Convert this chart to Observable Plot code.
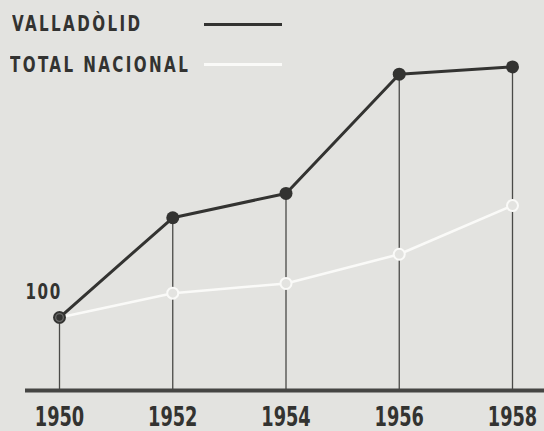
<!DOCTYPE html>
<html><head><meta charset="utf-8">
<script src="https://cdn.jsdelivr.net/npm/d3@7"></script>
<script src="https://cdn.jsdelivr.net/npm/@observablehq/plot@0.6"></script>
<style>
html,body{margin:0;padding:0;background:#e3e3e0;}
#wrap{position:relative;width:544px;height:431px;overflow:hidden;}
#wrap svg{position:absolute;left:0;top:0;}
.leg{position:absolute;font-family:"DejaVu Sans Condensed","DejaVu Sans",sans-serif;font-weight:bold;font-size:21px;line-height:21px;color:#333331;letter-spacing:3px;white-space:nowrap;transform:scaleX(0.8);transform-origin:0 0;}
.sw{position:absolute;}
</style></head><body><div id="wrap"></div>
<script>
const years = [1950, 1952, 1954, 1956, 1958];
const valladolid = [100, 141, 151, 200, 203];
const totalNacional = [100, 110, 114, 126, 146];
const seriesNames = ["VALLADÒLID", "TOTAL NACIONAL"];
const baseLabel = "100";

const bg = "#e3e3e0";
const dark = "#333331";
const light = "#fafaf8";
const font = '"DejaVu Sans Condensed","DejaVu Sans",sans-serif';

const vData = years.map((y, i) => ({year: y, value: valladolid[i]}));
const tData = years.map((y, i) => ({year: y, value: totalNacional[i]}));

const chart = Plot.plot({
  width: 544, height: 431,
  marginLeft: 25, marginRight: 0, marginTop: 0, marginBottom: 41,
  style: {background: "transparent", fontFamily: font, color: dark},
  x: {domain: [1950, 1958], range: [59, 512], axis: null},
  y: {domain: [70, 200], range: [390, 73.7], axis: null},
  marks: [
    Plot.ruleX(vData, {x: "year", y1: 70, y2: "value", stroke: "#4a4a48", strokeWidth: 1.3}),
    Plot.ruleY([70], {stroke: "#454543", strokeWidth: 4}),
    Plot.line(tData, {x: "year", y: "value", stroke: light, strokeWidth: 2.5}),
    Plot.dot(tData, {x: "year", y: "value", r: 5.5, stroke: light, strokeWidth: 2, fill: bg}),
    Plot.line(vData, {x: "year", y: "value", stroke: dark, strokeWidth: 3}),
    Plot.dot(vData, {x: "year", y: "value", r: 6.5, fill: dark}),
    Plot.dot(tData, {x: "year", y: "value", r: 3.8, stroke: "#6a6a68", strokeWidth: 1.3, fill: "none",
      filter: (d, i) => d.value === valladolid[i]}),
    Plot.axisX({ticks: years, tickFormat: d => String(d), tickSize: 0, tickPadding: 17, label: null,
      fontSize: 26, fontWeight: "bold", fill: dark, className: "yr"}),
    Plot.text([baseLabel], {x: 1950, y: 100, dx: -34, dy: -25, text: d => d, textAnchor: "start",
      fontSize: 21, fontWeight: "bold", fill: dark, className: "base"})
  ]
});
const wrap = document.getElementById("wrap");
wrap.appendChild(chart);

// narrow the condensed face to match the reference lettering
d3.select(chart).selectAll("g[aria-label='x-axis tick label'] text, .yr text").each(function() {
  const t = this.getAttribute("transform") || "";
  if (!/scale/.test(t)) this.setAttribute("transform", t + " scale(0.76,1)");
});
d3.select(chart).selectAll(".base text").each(function() {
  const t = this.getAttribute("transform") || "";
  this.setAttribute("transform", t + " scale(0.8,1)");
  this.setAttribute("letter-spacing", "2");
});

// legend
const legend = [
  {name: seriesNames[0], color: dark, top: 14, left: 12, lineTop: 22.5, lh: 3},
  {name: seriesNames[1], color: light, top: 55, left: 10, lineTop: 63, lh: 2.5}
];
for (const l of legend) {
  const t = document.createElement("div");
  t.className = "leg";
  t.style.top = l.top + "px";
  t.style.left = l.left + "px";
  t.textContent = l.name;
  wrap.appendChild(t);
  const s = document.createElement("div");
  s.className = "sw";
  s.style.left = "204px";
  s.style.width = "78px";
  s.style.top = l.lineTop + "px";
  s.style.height = l.lh + "px";
  s.style.background = l.color;
  wrap.appendChild(s);
}
</script>
</body></html>
